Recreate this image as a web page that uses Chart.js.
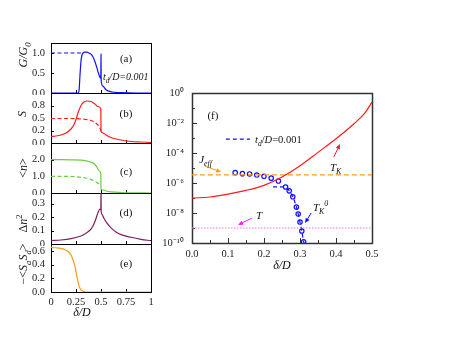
<!DOCTYPE html>
<html><head><meta charset="utf-8">
<script src="https://cdn.jsdelivr.net/npm/chart.js@4/dist/chart.umd.min.js"></script>
<style>
html,body{margin:0;padding:0;background:#fff}
body{width:458px;height:354px;overflow:hidden;position:relative}
canvas{position:absolute}
</style></head><body>
<script>
const FAM = '"Liberation Serif","Times New Roman",serif';

// ---------- Left panels: shared x axis ----------
const leftXTicks  = [0, 0.25, 0.5, 0.75, 1];
const leftXLabels = ['0', '0.25', '0.5', '0.75', '1'];

// (a) G/G0
const aSolidX = [0,0.27,0.28,0.29,0.30,0.31,0.32,0.34,0.36,0.38,0.40,0.42,0.44,0.46,0.48,0.498,0.5,0.502,0.52,0.55,0.6,0.7,0.85,1];
const aSolidY = [0,0,0.05,0.45,0.8,0.95,1.0,1.02,1.02,1.0,0.97,0.9,0.78,0.62,0.45,0.36,0.97,0.3,0.17,0.08,0.03,0.01,0,0];
const aDashX = [0, 0.32];
const aDashY = [1.0, 1.0];
const aYTicks = [0, 0.5, 1];
const aYLabels = ['0.0', '0.5', '1.0'];

// (b) S
const bSolidX = [0,0.05,0.1,0.15,0.2,0.23,0.25,0.27,0.3,0.33,0.36,0.4,0.44,0.47,0.498,0.5,0.52,0.55,0.6,0.65,0.7,0.8,0.9,1];
const bSolidY = [0.13,0.14,0.16,0.2,0.28,0.37,0.47,0.6,0.75,0.82,0.84,0.83,0.78,0.73,0.68,0.24,0.2,0.16,0.11,0.08,0.06,0.03,0.02,0.01];
const bDashX = [0,0.1,0.2,0.3,0.35,0.4,0.44,0.47,0.49,0.5];
const bDashY = [0.49,0.49,0.49,0.48,0.47,0.45,0.41,0.36,0.3,0.24];
const bYTicks = [0, 0.25, 0.5, 0.75];
const bYLabels = ['0.0', '0.2', '0.5', '0.8'];

// (c) <n>
const cSolidX = [0,0.1,0.2,0.3,0.35,0.4,0.43,0.46,0.48,0.498,0.5,0.52,0.55,0.6,0.7,0.8,1];
const cSolidY = [2.0,2.0,1.99,1.97,1.93,1.85,1.75,1.55,1.35,1.15,0.25,0.18,0.12,0.07,0.03,0.01,0];
const cDashX = [0,0.1,0.2,0.25,0.3,0.35,0.4,0.44,0.47,0.5];
const cDashY = [1.0,1.0,0.99,0.97,0.94,0.9,0.82,0.7,0.58,0.45];
const cYTicks = [0, 1, 2];
const cYLabels = ['0.0', '1.0', '2.0'];

// (d) Δn²
const dX = [0,0.1,0.2,0.3,0.35,0.4,0.43,0.45,0.47,0.49,0.498,0.5,0.502,0.51,0.53,0.56,0.6,0.65,0.7,0.8,0.9,1];
const dY = [0.025,0.03,0.04,0.06,0.08,0.11,0.15,0.19,0.235,0.26,0.255,0.4,0.24,0.22,0.19,0.155,0.12,0.09,0.07,0.05,0.035,0.025];
const dYTicks = [0, 0.1, 0.2, 0.3];
const dYLabels = ['0', '0.1', '0.2', '0.3'];

// (e) -<Sa Sd>
const eX = [0,0.05,0.1,0.15,0.18,0.2,0.22,0.24,0.26,0.28,0.3,0.32,0.35,0.4,0.6,0.8,1];
const eY = [0.65,0.645,0.635,0.61,0.58,0.54,0.47,0.37,0.22,0.09,0.03,0.01,0,0,0,0,0];
const eYTicks = [0, 0.2, 0.4, 0.6];
const eYLabels = ['0.0', '0.2', '0.4', '0.6'];

// ---------- Panel (f) ----------
const tkX = [0,0.05,0.1,0.15,0.2,0.25,0.3,0.35,0.4,0.45,0.48,0.5];
const tkY = [1e-7,1.17e-7,1.8e-7,3.2e-7,7e-7,2.5e-6,1.4e-5,1.1e-4,8.9e-4,8.9e-3,4.5e-2,2.5e-1];
const tk0X = [0.12,0.14,0.16,0.18,0.20,0.22,0.24,0.26,0.27,0.28,0.29,0.295,0.30,0.305,0.31];
const tk0Y = [4.9e-6,4.2e-6,4.0e-6,3.4e-6,2.8e-6,2.1e-6,1.35e-6,5.4e-7,3.0e-7,1.2e-7,2.5e-8,8.5e-9,2.5e-9,6.3e-10,1.2e-10];
const tdX = [0.225,0.26,0.27,0.28,0.29,0.295,0.30,0.305,0.31,0.312];
const tdY = [5.6e-7,5.4e-7,3.0e-7,1.2e-7,2.5e-8,8.5e-9,2.5e-9,6.3e-10,1.2e-10,1e-10];
const jeffX = [0, 0.5];
const jeffY = [3.5e-6, 3.5e-6];
const tempX = [0, 0.5];
const tempY = [1e-9, 1e-9];
const fXTicks = [0, 0.1, 0.2, 0.3, 0.4, 0.5];
const fXLabels = ['0.0', '0.1', '0.2', '0.3', '0.4', '0.5'];
const fYTicks = [1e-10, 1e-8, 1e-6, 1e-4, 1e-2, 1];
const fYLabels = ['10\u207B\u00B9\u2070', '10\u207B\u2078', '10\u207B\u2076', '10\u207B\u2074', '10\u207B\u00B2', '10\u2070'];

// ---------- helpers ----------
const pts = (xs, ys) => xs.map((x, i) => ({x, y: ys[i]}));

function rich(ctx, x, y, parts, fs, color, align) {
  const fontOf = p => `${p.it ? 'italic ' : ''}${p.s ? fs * 0.72 : fs}px ${FAM}`;
  let w = 0;
  for (const p of parts) { ctx.font = fontOf(p); w += ctx.measureText(p.t).width; }
  let cx = align === 'center' ? x - w / 2 : align === 'right' ? x - w : x;
  const base = y + fs * 0.33;
  ctx.fillStyle = color; ctx.textAlign = 'left'; ctx.textBaseline = 'alphabetic';
  for (const p of parts) {
    ctx.font = fontOf(p);
    const dy = p.s === 'sub' ? fs * 0.3 : p.s === 'sup' ? -fs * 0.45 : 0;
    ctx.fillText(p.t, cx, base + dy);
    cx += ctx.measureText(p.t).width;
  }
}
function arrow(ctx, x1, y1, x2, y2, c) {
  const a = Math.atan2(y2 - y1, x2 - x1), L = 5, W = 2.2;
  const ca = Math.cos(a), sa = Math.sin(a);
  ctx.strokeStyle = c; ctx.fillStyle = c; ctx.lineWidth = 1; ctx.setLineDash([]);
  ctx.beginPath(); ctx.moveTo(x1, y1); ctx.lineTo(x2 - ca * L * 0.8, y2 - sa * L * 0.8); ctx.stroke();
  ctx.beginPath(); ctx.moveTo(x2, y2);
  ctx.lineTo(x2 - L * ca + W * sa, y2 - L * sa - W * ca);
  ctx.lineTo(x2 - L * ca - W * sa, y2 - L * sa + W * ca);
  ctx.closePath(); ctx.fill();
}

const decoPlugin = {
  id: 'deco',
  beforeDatasetsDraw(chart, args, o) {
    const {ctx, chartArea: a} = chart;
    const xs = chart.scales.x, ys = chart.scales.y;
    const X = v => xs.getPixelForValue(v), Y = v => ys.getPixelForValue(v);
    ctx.save();
    ctx.setLineDash([]);
    ctx.strokeStyle = o.frameColor; ctx.lineWidth = 1;
    ctx.beginPath();
    (o.xTicks || []).forEach(([v, len]) => { const p = Math.round(X(v)) + 0.5; ctx.moveTo(p, a.bottom); ctx.lineTo(p, a.bottom - len); });
    (o.yTicks || []).forEach(([v, len]) => { const p = Math.round(Y(v)) + 0.5; ctx.moveTo(a.left, p); ctx.lineTo(a.left + len, p); });
    ctx.stroke();
    ctx.strokeStyle = o.frameColor; ctx.lineWidth = o.frameWidth;
    const h = (o.frameWidth % 2) ? 0.5 : 0;
    ctx.strokeRect(Math.round(a.left) + h, Math.round(a.top) + h, Math.round(a.width), Math.round(a.height));
    ctx.restore();
  },
  afterDatasetsDraw(chart, args, o) {
    const {ctx, chartArea: a} = chart;
    const xs = chart.scales.x, ys = chart.scales.y;
    const X = v => xs.getPixelForValue(v), Y = v => ys.getPixelForValue(v);
    ctx.save();
    (o.segs || []).forEach(s => {
      ctx.strokeStyle = s.c; ctx.lineWidth = s.w || 1.2; ctx.setLineDash(s.dash || []);
      ctx.beginPath(); ctx.moveTo(X(s.x1), Y(s.y)); ctx.lineTo(X(s.x2), Y(s.y)); ctx.stroke();
    });
    ctx.setLineDash([]);
    (o.arrows || []).forEach(r => arrow(ctx, X(r.x1), Y(r.y1), X(r.x2), Y(r.y2), r.c));
    (o.texts || []).forEach(t => rich(ctx, X(t.x), Y(t.y), t.parts, t.fs, t.c || '#111', t.align));
    (o.ptexts || []).forEach(t => {
      const px = a.left + t.dx, py = (t.fromBottom ? a.bottom : (a.top + a.height / 2)) + t.dy;
      ctx.save(); ctx.translate(px, py);
      if (t.rot) ctx.rotate(-Math.PI / 2);
      rich(ctx, 0, 0, t.parts, t.fs, t.c || '#111', 'center');
      ctx.restore();
    });
    ctx.restore();
  }
};

function axis(c, dir, size) {
  return {
    type: c.type || 'linear', min: c.min, max: c.max, position: dir === 'x' ? 'bottom' : 'left',
    grid: {display: false, drawTicks: false}, border: {display: false},
    ticks: {display: !!c.labels, padding: c.pad || 4, color: '#222', font: {family: FAM, size: c.fs || 10.5},
            autoSkip: false, maxRotation: 0, minRotation: 0,
            callback: (v, i) => c.labels ? c.labels[i] : ''},
    afterBuildTicks: s => { s.ticks = c.ticks.map(v => ({value: v})); },
    afterFit: s => {
      if (dir === 'x') s.height = size; else s.width = size;
      s.paddingLeft = s.paddingRight = s.paddingTop = s.paddingBottom = 0;
    }
  };
}

function panel(box, xc, yc, datasets, deco) {
  const {L, T, W, H, pl, pt, pr, pb} = box;
  const cv = document.createElement('canvas');
  cv.width = pl + W + pr; cv.height = pt + H + pb;
  cv.style.width = cv.width + 'px'; cv.style.height = cv.height + 'px';
  cv.style.left = (L - pl) + 'px'; cv.style.top = (T - pt) + 'px';
  document.body.appendChild(cv);
  new Chart(cv, {
    type: 'line',
    data: {datasets},
    options: {
      responsive: false, animation: false, events: [], devicePixelRatio: 1,
      layout: {autoPadding: false, padding: {left: 0, top: pt, right: pr, bottom: 0}},
      elements: {point: {radius: 0}, line: {borderWidth: 1.2, tension: 0}},
      plugins: {legend: {display: false}, tooltip: {enabled: false}, deco},
      scales: {x: axis(xc, 'x', pb), y: axis(yc, 'y', pl)}
    },
    plugins: [decoPlugin]
  });
}

const line = (data, color, dash, w) => ({data, borderColor: color, borderDash: dash || [], borderWidth: w || 1.2, pointRadius: 0, fill: false, cubicInterpolationMode: 'monotone'});

const BLUE = '#1010ff', RED = '#ff1a1a', GREEN = '#6acb45', PURPLE = '#7d1f5e', ORANGE = '#ff9a1a', PINK = '#ff66ff';
const leftXT = leftXTicks.map(v => [v, 3]);
const yT = arr => arr.map(v => [v, 3]);
const titleFs = 12;

// (a)
panel({L: 51, T: 43, W: 100, H: 50, pl: 51, pt: 8, pr: 9, pb: 2},
  {min: 0, max: 1, ticks: leftXTicks},
  {min: 0, max: 1.25, ticks: aYTicks, labels: aYLabels, pad: 6},
  [line(pts(aSolidX, aSolidY), BLUE), line(pts(aDashX, aDashY), BLUE, [4, 2.5])],
  {frameColor: '#000', frameWidth: 1, xTicks: leftXT, yTicks: yT(aYTicks),
   texts: [
     {x: 0.75, y: 0.875, parts: [{t: '(a)'}], fs: 11, align: 'center'},
     {x: 0.52, y: 0.42, parts: [{t: 't', it: 1}, {t: 'd', it: 1, s: 'sub'}, {t: '/D=0.001', it: 1}], fs: 10}
   ],
   ptexts: [{dx: -28, dy: -13, rot: 1, fs: titleFs, parts: [{t: 'G/G', it: 1}, {t: '0', it: 1, s: 'sub'}]}]
  });

// (b)
panel({L: 51, T: 93, W: 100, H: 50, pl: 51, pt: 8, pr: 9, pb: 2},
  {min: 0, max: 1, ticks: leftXTicks},
  {min: 0, max: 1.0, ticks: bYTicks, labels: bYLabels, pad: 6},
  [line(pts(bSolidX, bSolidY), RED), line(pts(bDashX, bDashY), RED, [4, 2.5])],
  {frameColor: '#000', frameWidth: 1, xTicks: leftXT, yTicks: yT(bYTicks),
   texts: [{x: 0.75, y: 0.6, parts: [{t: '(b)'}], fs: 11, align: 'center'}],
   ptexts: [{dx: -29, dy: -4, rot: 1, fs: titleFs, parts: [{t: 'S', it: 1}]}]
  });

// (c)
panel({L: 51, T: 143, W: 100, H: 50, pl: 51, pt: 8, pr: 9, pb: 2},
  {min: 0, max: 1, ticks: leftXTicks},
  {min: 0, max: 3, ticks: cYTicks, labels: cYLabels, pad: 6},
  [line(pts(cSolidX, cSolidY), GREEN), line(pts(cDashX, cDashY), GREEN, [4, 2.5])],
  {frameColor: '#000', frameWidth: 1, xTicks: leftXT, yTicks: yT(cYTicks),
   texts: [{x: 0.75, y: 1.32, parts: [{t: '(c)'}], fs: 11, align: 'center'}],
   ptexts: [{dx: -28, dy: 0, rot: 1, fs: titleFs, parts: [{t: '<'}, {t: 'n', it: 1}, {t: '>'}]}]
  });

// (d)
panel({L: 51, T: 193, W: 100, H: 51, pl: 51, pt: 8, pr: 9, pb: 2},
  {min: 0, max: 1, ticks: leftXTicks},
  {min: 0, max: 0.38, ticks: dYTicks, labels: dYLabels, pad: 6},
  [line(pts(dX, dY), PURPLE)],
  {frameColor: '#000', frameWidth: 1, xTicks: leftXT, yTicks: yT(dYTicks),
   texts: [{x: 0.75, y: 0.238, parts: [{t: '(d)'}], fs: 11, align: 'center'}],
   ptexts: [{dx: -28, dy: 5, rot: 1, fs: titleFs, parts: [{t: '\u0394'}, {t: 'n', it: 1}, {t: '2', s: 'sup'}]}]
  });

// (e)
panel({L: 51, T: 244, W: 100, H: 48, pl: 51, pt: 8, pr: 9, pb: 30},
  {min: 0, max: 1, ticks: leftXTicks, labels: leftXLabels, pad: 4},
  {min: 0, max: 0.7, ticks: eYTicks, labels: eYLabels, pad: 6},
  [line(pts(eX, eY), ORANGE)],
  {frameColor: '#000', frameWidth: 1, xTicks: leftXT, yTicks: yT(eYTicks),
   texts: [{x: 0.75, y: 0.42, parts: [{t: '(e)'}], fs: 11, align: 'center'}],
   ptexts: [
     {dx: -28, dy: -4, rot: 1, fs: titleFs, parts: [{t: '\u2212<'}, {t: 'S', it: 1}, {t: 'a', it: 1, s: 'sub'}, {t: 'S', it: 1}, {t: 'd', it: 1, s: 'sub'}, {t: '>'}]},
     {dx: 31, dy: 20, fromBottom: 1, fs: 12, parts: [{t: '\u03B4/D', it: 1}]}
   ]
  });

// (f)
const fXT = [0,0.05,0.1,0.15,0.2,0.25,0.3,0.35,0.4,0.45,0.5].map((v, i) => [v, i % 2 ? 3 : 5]);
const fYT = [-10,-9,-8,-7,-6,-5,-4,-3,-2,-1,0].map(e => [Math.pow(10, e), e % 2 ? 3 : 5]);
const d = e => Math.pow(10, -e);
panel({L: 192, T: 93, W: 180, H: 150, pl: 60, pt: 10, pr: 20, pb: 35},
  {min: 0, max: 0.5, ticks: fXTicks, labels: fXLabels, pad: 5},
  {type: 'logarithmic', min: 1e-10, max: 1, ticks: fYTicks, labels: fYLabels, pad: 8},
  [
    line(pts(tkX, tkY), RED),
    line(pts(jeffX, jeffY), ORANGE, [5, 3], 1.4),
    line(pts(tempX, tempY), PINK, [1.5, 1.5], 1),
    line(pts(tdX, tdY), BLUE, [4, 3], 1.2),
    {data: pts(tk0X, tk0Y), showLine: false, pointRadius: 2.2, pointBorderWidth: 1.2,
     pointBorderColor: BLUE, pointBackgroundColor: 'rgba(0,0,0,0)', borderColor: BLUE}
  ],
  {frameColor: '#333', frameWidth: 1.5, xTicks: fXT, yTicks: fYT,
   segs: [{x1: 0.094, x2: 0.161, y: d(3.07), c: BLUE, dash: [4, 3]}],
   arrows: [
     {x1: 0.036, y1: d(4.87), x2: 0.081, y2: d(5.27), c: ORANGE},
     {x1: 0.394, y1: d(4.27), x2: 0.411, y2: d(3.4), c: RED},
     {x1: 0.331, y1: d(8.0), x2: 0.314, y2: d(8.67), c: BLUE},
     {x1: 0.167, y1: d(8.33), x2: 0.128, y2: d(8.8), c: '#ee22ee'}
   ],
   texts: [
     {x: 0.058, y: d(1.47), parts: [{t: '(f)'}], fs: 11, align: 'center'},
     {x: 0.175, y: d(3.07), parts: [{t: 't', it: 1}, {t: 'd', it: 1, s: 'sub'}, {t: '/'}, {t: 'D', it: 1}, {t: '=0.001'}], fs: 10.5},
     {x: 0.02, y: d(4.4), parts: [{t: 'J', it: 1}, {t: 'eff', it: 1, s: 'sub'}], fs: 11},
     {x: 0.383, y: d(4.93), parts: [{t: 'T', it: 1}, {t: 'K', it: 1, s: 'sub'}], fs: 11},
     {x: 0.336, y: d(7.6), parts: [{t: 'T', it: 1}, {t: 'K', it: 1, s: 'sub'}, {t: '0', it: 1, s: 'sup'}], fs: 11},
     {x: 0.178, y: d(8.13), parts: [{t: 'T', it: 1}], fs: 11}
   ],
   ptexts: [{dx: 90, dy: 22, fromBottom: 1, fs: 12, parts: [{t: '\u03B4/D', it: 1}]}]
  });
</script>
</body></html>
